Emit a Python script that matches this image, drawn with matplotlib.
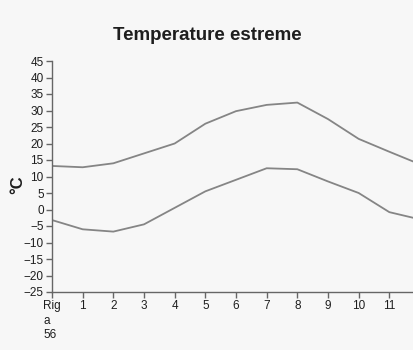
import numpy as np
import matplotlib.pyplot as plt

mesi = ['Rig\na\n56', '1', '2', '3', '4', '5', '6', '7', '8', '9', '10', '11', '12']
t_max = [13.2, 12.8, 14.0, 17.0, 20.0, 26.0, 29.8, 31.7, 32.4, 27.4, 21.4, 17.5, 13.7]
t_min = [-3.2, -6.0, -6.7, -4.5, 0.5, 5.5, 9.0, 12.5, 12.2, 8.5, 5.0, -0.8, -3.0]
y_ticks = list(range(-25, 50, 5))

sfondo = '#f7f7f7'
grigio = '#858585'
testo = '#1e1e1e'

plt.rcParams['font.family'] = ['Liberation Sans', 'DejaVu Sans']

fig = plt.figure(figsize=(4.14, 3.5), dpi=100, facecolor=sfondo)
# l'asse prosegue oltre il bordo destro, come nell'originale tagliato
ax = fig.add_axes([52 / 414, 58 / 350, 368 / 414, 231 / 350], facecolor=sfondo)

x = np.arange(len(mesi))
ax.plot(x, t_max, color=grigio, lw=1.3)
ax.plot(x, t_min, color=grigio, lw=1.3)

ax.set_xlim(0, 12)
ax.set_ylim(-25, 45)
ax.set_yticks(y_ticks)
ax.set_xticks(x)
ax.set_xticklabels(mesi, multialignment='left', linespacing=1.25)

for s in ['top', 'right']:
    ax.spines[s].set_visible(False)
for s in ['left', 'bottom']:
    ax.spines[s].set_color('#666666')
    ax.spines[s].set_linewidth(1.0)

ax.tick_params(axis='both', length=4, width=1, color='#666666', labelsize=8.5,
               labelcolor=testo, pad=2)
for lab in ax.get_xticklabels() + ax.get_yticklabels():
    lab.set_fontweight('medium')

fig.text(18 / 414, 1 - 185 / 350, '°C', rotation=90, ha='center', va='center',
         fontsize=12, fontweight='bold', color=testo)
fig.text(207 / 414, 1 - 35 / 350, 'Temperature estreme', ha='center', va='center',
         fontsize=13.5, fontweight='bold', color=testo)

fig.savefig('out.png', dpi=100, facecolor=sfondo)
